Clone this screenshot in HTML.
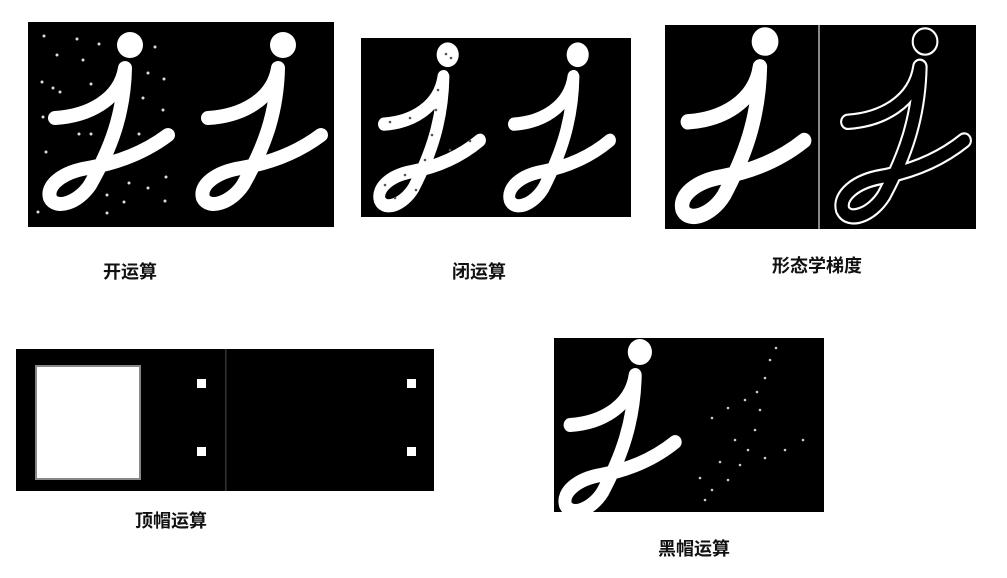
<!DOCTYPE html>
<html><head><meta charset="utf-8"><style>
html,body{margin:0;padding:0;background:#fff;width:1007px;height:578px;overflow:hidden}
svg{display:block}
text{font-family:"Liberation Sans","Noto Sans CJK SC",sans-serif;font-weight:bold;font-size:18px;fill:#111}
</style></head><body>
<svg width="1007" height="578" viewBox="0 0 1007 578">
<defs>
<g id="jshape">
<circle cx="102" cy="25" r="13" fill="#fff"/>
<path d="M27,98 C60,96 92,80 97,48 C96,95 82,130 62,165 C50,183 28,190 22,178 C18,165 35,152 60,148 C95,142 120,130 140,115" fill="none" stroke="#fff" stroke-width="14" stroke-linecap="round" stroke-linejoin="round"/>
</g>
<g id="joutline">
<circle cx="102" cy="25" r="12" fill="none" stroke="#fff" stroke-width="2"/>
<path d="M27,98 C60,96 92,80 97,48 C96,95 82,130 62,165 C50,183 28,190 22,178 C18,165 35,152 60,148 C95,142 120,130 140,115" fill="none" stroke="#fff" stroke-width="15" stroke-linecap="round" stroke-linejoin="round"/>
<path d="M27,98 C60,96 92,80 97,48 C96,95 82,130 62,165 C50,183 28,190 22,178 C18,165 35,152 60,148 C95,142 120,130 140,115" fill="none" stroke="#000" stroke-width="11" stroke-linecap="round" stroke-linejoin="round"/>
</g>
</defs>

<g>
<rect x="28" y="22" width="306" height="205" fill="#000"/>
<use href="#jshape" transform="translate(28,20)"/>
<use href="#jshape" transform="translate(181,20)"/>
<g fill="#ddd">
<circle cx="44" cy="36" r="1.5"/><circle cx="77" cy="39" r="1.5"/><circle cx="99" cy="44" r="1.5"/><circle cx="155" cy="47" r="1.5"/>
<circle cx="57" cy="55" r="1.5"/><circle cx="83" cy="60" r="1.5"/><circle cx="148" cy="73" r="1.5"/><circle cx="164" cy="79" r="1.5"/>
<circle cx="42" cy="82" r="1.5"/><circle cx="53" cy="88" r="1.5"/><circle cx="60" cy="92" r="1.5"/><circle cx="91" cy="84" r="1.5"/>
<circle cx="143" cy="98" r="1.5"/><circle cx="163" cy="110" r="1.5"/><circle cx="43" cy="117" r="1.5"/><circle cx="79" cy="134" r="1.5"/>
<circle cx="91" cy="134" r="1.5"/><circle cx="139" cy="134" r="1.5"/><circle cx="46" cy="152" r="1.5"/><circle cx="166" cy="177" r="1.5"/>
<circle cx="129" cy="183" r="1.5"/><circle cx="148" cy="188" r="1.5"/><circle cx="107" cy="195" r="1.5"/><circle cx="124" cy="202" r="1.5"/>
<circle cx="165" cy="201" r="1.5"/><circle cx="38" cy="212" r="1.5"/><circle cx="107" cy="213" r="1.5"/>
</g>
</g>
<text x="103" y="278">开运算</text>

<g>
<rect x="361" y="38" width="270" height="179" fill="#000"/>
<use href="#jshape" transform="translate(361,31) scale(0.85,0.95)"/>
<use href="#jshape" transform="translate(491,31) scale(0.85,0.95)"/>
<g fill="#555">
<circle cx="446" cy="54" r="1.3"/><circle cx="451" cy="58" r="1.3"/><circle cx="438" cy="90" r="1.3"/><circle cx="436" cy="110" r="1.3"/>
<circle cx="390" cy="122" r="1.3"/><circle cx="410" cy="118" r="1.3"/><circle cx="432" cy="135" r="1.3"/><circle cx="425" cy="160" r="1.3"/>
<circle cx="450" cy="150" r="1.3"/><circle cx="470" cy="141" r="1.3"/><circle cx="385" cy="185" r="1.3"/><circle cx="395" cy="198" r="1.3"/>
<circle cx="405" cy="175" r="1.3"/><circle cx="416" cy="190" r="1.3"/>
</g>
</g>
<text x="452" y="278">闭运算</text>

<g>
<rect x="665" y="25" width="311" height="204" fill="#000"/>
<use href="#jshape" transform="translate(660,14) scale(1.03,1.1)"/>
<rect x="818" y="25" width="2" height="204" fill="#888"/>
<use href="#joutline" transform="translate(820,14) scale(1.03,1.1)"/>
</g>
<text x="772" y="272">形态学梯度</text>

<g>
<rect x="16" y="349" width="418" height="142" fill="#000"/>
<rect x="36" y="366" width="104" height="113" fill="#fff" stroke="#888" stroke-width="2"/>
<rect x="197" y="379" width="9" height="9" fill="#fff"/>
<rect x="197" y="447" width="9" height="9" fill="#fff"/>
<rect x="225" y="349" width="1.5" height="142" fill="#333"/>
<rect x="407" y="379" width="9" height="9" fill="#fff"/>
<rect x="407" y="447" width="9" height="9" fill="#fff"/>
</g>
<text x="135" y="527">顶帽运算</text>

<g>
<rect x="554" y="338" width="270" height="174" fill="#000"/>
<use href="#jshape" transform="translate(545,327) scale(0.93,1)"/>
<g fill="#ccc">
<circle cx="776" cy="348" r="1.3"/><circle cx="770" cy="360" r="1.3"/><circle cx="765" cy="378" r="1.3"/><circle cx="757" cy="392" r="1.3"/>
<circle cx="745" cy="400" r="1.3"/><circle cx="728" cy="408" r="1.3"/><circle cx="712" cy="418" r="1.3"/><circle cx="760" cy="410" r="1.3"/>
<circle cx="755" cy="430" r="1.3"/><circle cx="748" cy="450" r="1.3"/><circle cx="740" cy="465" r="1.3"/><circle cx="728" cy="480" r="1.3"/>
<circle cx="712" cy="490" r="1.3"/><circle cx="700" cy="478" r="1.3"/><circle cx="720" cy="462" r="1.3"/><circle cx="765" cy="458" r="1.3"/>
<circle cx="785" cy="450" r="1.3"/><circle cx="803" cy="440" r="1.3"/><circle cx="705" cy="500" r="1.3"/><circle cx="735" cy="440" r="1.3"/>
</g>
</g>
<text x="658" y="555">黑帽运算</text>
</svg>
</body></html>
